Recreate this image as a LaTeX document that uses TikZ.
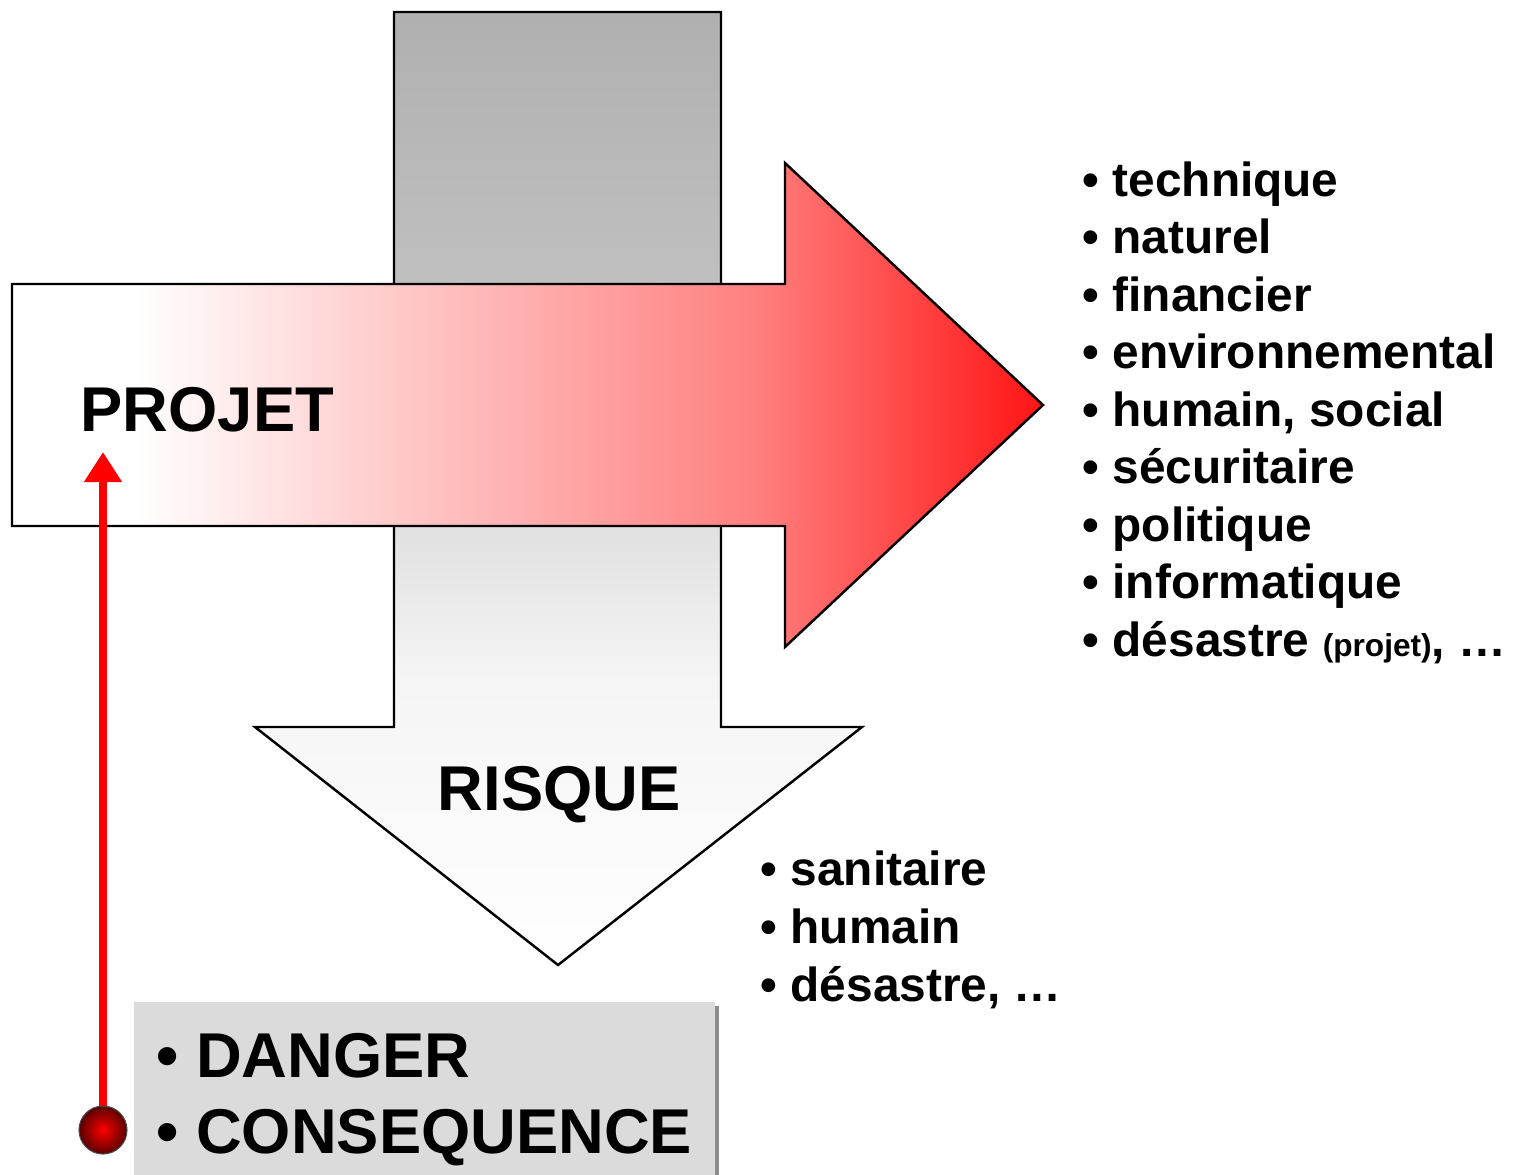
\documentclass[tikz,border=0pt]{standalone}
\usepackage{fontspec}
\setmainfont{Liberation Sans}
\usepackage{tikz}
\usetikzlibrary{arrows.meta, shadows}
\pgfdeclarehorizontalshading{projetshade}{100bp}{color(0bp)=(white); color(25bp)=(white); color(31bp)=(white); color(61bp)=(red!50); color(75bp)=(red!92); color(100bp)=(red!92)}
\pgfdeclareverticalshading{risqueshade}{100bp}{color(0bp)=(white); color(25bp)=(white); color(40bp)=(black!4); color(48bp)=(black!12); color(61bp)=(black!25); color(75bp)=(black!31); color(100bp)=(black!31)}
\tikzstyle{bigarrow} = [draw=black, line width=0.7pt, line join=miter]
\tikzstyle{title} = [font=\fontsize{18}{21.6}\selectfont\bfseries, inner sep=0pt, anchor=base west]
\tikzstyle{item} = [font=\fontsize{13.6}{16}\selectfont\bfseries, inner sep=0pt, anchor=base west]
\tikzstyle{hazardbox} = [fill=black!14, drop shadow={shadow xshift=0.04cm, shadow yshift=-0.04cm, fill=black!45, opacity=1}, font=\fontsize{18}{21.6}\selectfont\bfseries, align=left, anchor=north west, inner xsep=0.22cm, inner ysep=0pt, minimum width=5.81cm, text height=1.52cm, text depth=0.22cm]
\tikzstyle{redball} = [circle, draw=black!70, line width=0.3pt, minimum size=0.48cm, inner sep=0pt, shading=radial, inner color=red, outer color=red!35!black]
\tikzstyle{redline} = [draw=red, line width=2.3pt, -{Triangle[width=0.36cm, length=0.3cm]}]

\begin{document}
\begin{tikzpicture}[x=0.01cm, y=-0.01cm]
\useasboundingbox (0,0) rectangle (1514,1175);

% Arrows
\draw [bigarrow, shading=risqueshade] (394,12) -- (721,12) -- (721,727) -- (862,727) -- (558,965) -- (255,727) -- (394,727) -- cycle;
\draw [bigarrow, shading=projetshade] (12,284) -- (785,284) -- (785,163) -- (1043,405) -- (785,647) -- (785,526) -- (12,526) -- cycle;

% Nodes
\node (projet) [title] at (80,431) {PROJET};
\node (risque) [title] at (437,810) {RISQUE};
\node (hazard) [hazardbox] at (133,1001) {• DANGER\\• CONSEQUENCE};

\foreach \txt [count=\i from 0] in {technique, naturel, financier, environnemental, {humain, social}, sécuritaire, politique, informatique}
  \node (type\i) [item] at (1082,196+57.5*\i) {• \txt};
\node (type8) [item] at (1082,656) {• désastre {\fontsize{9}{10}\selectfont(projet)}, …};

\node (sante) [item] at (760,885) {• sanitaire};
\node (humain) [item] at (760,943) {• humain};
\node (desastre) [item] at (760,1001) {• désastre, …};

% Connector
\coordinate (tip) at (103,452);
\draw [redline] (103,1130) -- (tip);
\node (ball) [redball] at (103,1130) {};

\end{tikzpicture}
\end{document}
